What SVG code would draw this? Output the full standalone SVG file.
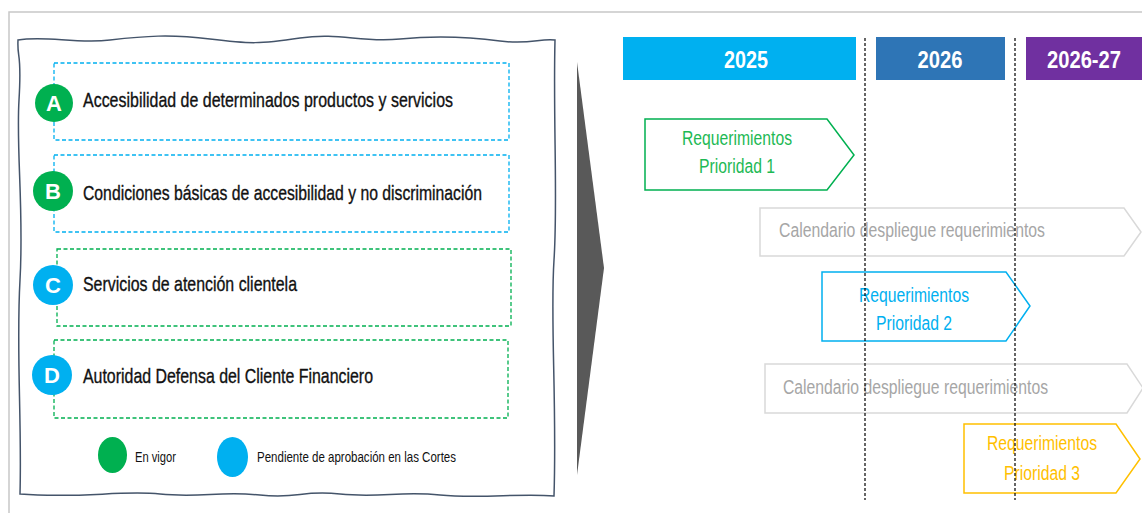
<svg xmlns="http://www.w3.org/2000/svg" width="1142" height="513" viewBox="0 0 1142 513">
<style>
.lbl{font-family:"Liberation Sans",Arial,sans-serif;font-size:21px;fill:#111;stroke:#111;stroke-width:0.35}
.let{font-family:"Liberation Sans",Arial,sans-serif;font-size:22px;font-weight:bold;fill:#fff}
.leg{font-family:"Liberation Sans",Arial,sans-serif;font-size:14px;fill:#111}
.yr{font-family:"Liberation Sans",Arial,sans-serif;font-size:23px;font-weight:bold;fill:#fff}
.tl{font-family:"Liberation Sans",Arial,sans-serif;font-size:19.5px}
.dashb{fill:none;stroke:#00B0F0;stroke-width:1.3;stroke-dasharray:4 2.5}
.dashg{fill:none;stroke:#00B050;stroke-width:1.3;stroke-dasharray:4 2.5}
.vline{stroke:#000;stroke-width:1.2;stroke-dasharray:3 2}
</style>
<rect x="0" y="0" width="1142" height="513" fill="#fff"/>
<path d="M9,513 L9,12 L1142,12" fill="none" stroke="#c8c8c8" stroke-width="1.5"/>
<g id="panel">
<path d="M18,40 C45,35 75,44 110,40 S170,34 210,39 S260,44 300,38 S360,43 400,39 S470,37 500,41 S540,38 555,40 C553,120 558,200 554,260 S557,400 554,496 C520,493 480,499 440,495 S380,498 340,494 S300,499 260,495 S200,498 160,494 S80,499 20,494 C22,420 16,350 20,280 S16,150 19,100 S17,60 18,40 Z" fill="#fff" stroke="#44546A" stroke-width="1.5"/>
</g>
<g id="nodeA">
<rect class="dashb" x="54" y="63" width="455" height="77"/>
<circle cx="54" cy="103" r="19" fill="#00B050"/>
<text class="let" x="54" y="111" text-anchor="middle">A</text>
<text class="lbl" x="83" y="107" textLength="370" lengthAdjust="spacingAndGlyphs">Accesibilidad de determinados productos y servicios</text>
</g>
<g id="nodeB">
<rect class="dashb" x="54" y="155" width="455" height="77"/>
<circle cx="53" cy="191" r="20" fill="#00B050"/>
<text class="let" x="53" y="199" text-anchor="middle">B</text>
<text class="lbl" x="83" y="200" textLength="399" lengthAdjust="spacingAndGlyphs">Condiciones básicas de accesibilidad y no discriminación</text>
</g>
<g id="nodeC">
<rect class="dashg" x="57" y="249" width="454" height="77"/>
<circle cx="53" cy="285" r="20" fill="#00B0F0"/>
<text class="let" x="53" y="293" text-anchor="middle">C</text>
<text class="lbl" x="83" y="291" textLength="214" lengthAdjust="spacingAndGlyphs">Servicios de atención clientela</text>
</g>
<g id="nodeD">
<rect class="dashg" x="54" y="340" width="454" height="78"/>
<circle cx="52" cy="375" r="20" fill="#00B0F0"/>
<text class="let" x="52" y="383" text-anchor="middle">D</text>
<text class="lbl" x="83" y="383" textLength="290" lengthAdjust="spacingAndGlyphs">Autoridad Defensa del Cliente Financiero</text>
</g>
<g id="legend">
<ellipse cx="112.5" cy="455" rx="14.5" ry="18" fill="#00B050"/>
<text class="leg" x="135" y="462" textLength="41" lengthAdjust="spacingAndGlyphs">En vigor</text>
<ellipse cx="232.5" cy="457" rx="15.5" ry="20" fill="#00B0F0"/>
<text class="leg" x="257" y="462" textLength="199" lengthAdjust="spacingAndGlyphs">Pendiente de aprobación en las Cortes</text>
</g>
<g id="year2025">
<rect x="623" y="37" width="233" height="43" fill="#00B0F0"/>
<text class="yr" x="746" y="68" text-anchor="middle" textLength="44" lengthAdjust="spacingAndGlyphs">2025</text>
</g>
<g id="year2026">
<rect x="876" y="37" width="129" height="43" fill="#2E75B6"/>
<text class="yr" x="940" y="68" text-anchor="middle" textLength="45" lengthAdjust="spacingAndGlyphs">2026</text>
</g>
<g id="year2026-27">
<rect x="1026" y="37" width="116" height="43" fill="#7030A0"/>
<text class="yr" x="1084" y="68" text-anchor="middle" textLength="74" lengthAdjust="spacingAndGlyphs">2026-27</text>
</g>
<g id="prioridad1">
<path d="M645,119 L827,119 L854,155 L827,190 L645,190 Z" fill="#fff" stroke="#00B050" stroke-width="1.5"/>
<text class="tl" fill="#1DB954" x="737" y="145" text-anchor="middle" textLength="110" lengthAdjust="spacingAndGlyphs">Requerimientos</text>
<text class="tl" fill="#1DB954" x="737" y="173" text-anchor="middle" textLength="76" lengthAdjust="spacingAndGlyphs">Prioridad 1</text>
</g>
<g id="calendario1">
<path d="M760,208 L1124,208 L1141,232 L1124,256 L760,256 Z" fill="#fff" stroke="#D9D9D9" stroke-width="1.5"/>
<text class="tl" fill="#A6A6A6" x="779" y="237" textLength="266" lengthAdjust="spacingAndGlyphs">Calendario despliegue requerimientos</text>
</g>
<g id="prioridad2">
<path d="M822,272 L1006,272 L1030,306 L1006,341 L822,341 Z" fill="#fff" stroke="#00B0F0" stroke-width="1.5"/>
<text class="tl" fill="#00B0F0" x="914" y="302" text-anchor="middle" textLength="110" lengthAdjust="spacingAndGlyphs">Requerimientos</text>
<text class="tl" fill="#00B0F0" x="914" y="330" text-anchor="middle" textLength="76" lengthAdjust="spacingAndGlyphs">Prioridad 2</text>
</g>
<g id="calendario2">
<path d="M765,364 L1127,364 L1143,388 L1127,413 L765,413 Z" fill="#fff" stroke="#D9D9D9" stroke-width="1.5"/>
<text class="tl" fill="#A6A6A6" x="783" y="394" textLength="265" lengthAdjust="spacingAndGlyphs">Calendario despliegue requerimientos</text>
</g>
<g id="prioridad3">
<path d="M964,424 L1116,424 L1140,459 L1116,493 L964,493 Z" fill="#fff" stroke="#FFC000" stroke-width="1.5"/>
<text class="tl" fill="#FFC000" x="1042" y="450" text-anchor="middle" textLength="110" lengthAdjust="spacingAndGlyphs">Requerimientos</text>
<text class="tl" fill="#FFC000" x="1042" y="480" text-anchor="middle" textLength="76" lengthAdjust="spacingAndGlyphs">Prioridad 3</text>
</g>
<g id="connectors">
<polygon points="577,62 604,268 577,475" fill="#595959"/>
<line class="vline" x1="865" y1="38" x2="865" y2="500"/>
<line class="vline" x1="1015" y1="38" x2="1015" y2="500"/>
</g>
</svg>
